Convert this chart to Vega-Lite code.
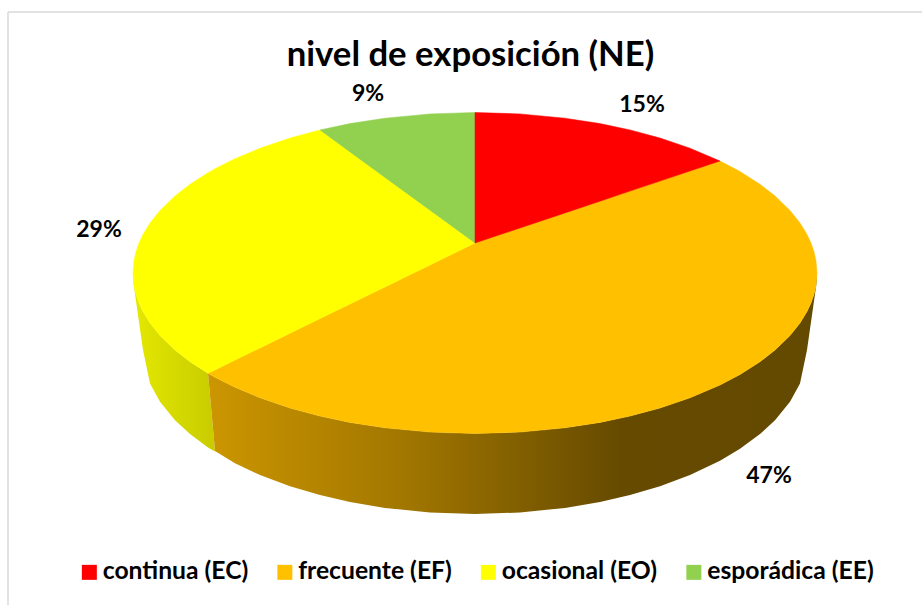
{
"$schema":"https://vega.github.io/schema/vega-lite/v6.json",
"width":922,"height":605,"padding":0,"autosize":{"type":"none"},
"background":"#ffffff",
"config":{"view":{"stroke":null},"font":"Lato"},
"title":{"text":"nivel de exposición (NE)","font":"Lato","fontWeight":"bold","fontSize":34.7,"color":"#000000","anchor":"middle","frame":"group","dx":9.5,"dy":74,"offset":0},
"datasets":{
"caras":[
{"sector":"frecuente (EF)","x":208,"y":373.3,"y2":373.3},{"sector":"frecuente (EF)","x":215,"y":369.9,"y2":377.3},{"sector":"frecuente (EF)","x":235,"y":360.1,"y2":387.3},{"sector":"frecuente (EF)","x":260,"y":347.9,"y2":397.8},{"sector":"frecuente (EF)","x":290,"y":333.3,"y2":408},{"sector":"frecuente (EF)","x":320,"y":318.6,"y2":416.1},{"sector":"frecuente (EF)","x":350,"y":304,"y2":422.4},{"sector":"frecuente (EF)","x":385,"y":286.9,"y2":427.8},{"sector":"frecuente (EF)","x":430,"y":265,"y2":432.1},{"sector":"frecuente (EF)","x":475,"y":243,"y2":433.5},{"sector":"frecuente (EF)","x":520,"y":228,"y2":432.1},{"sector":"frecuente (EF)","x":565,"y":212.9,"y2":427.8},{"sector":"frecuente (EF)","x":600,"y":201.2,"y2":422.4},{"sector":"frecuente (EF)","x":630,"y":191.1,"y2":416.1},{"sector":"frecuente (EF)","x":660,"y":181.1,"y2":408},{"sector":"frecuente (EF)","x":690,"y":171,"y2":397.8},{"sector":"frecuente (EF)","x":720,"y":161,"y2":385},{"sector":"frecuente (EF)","x":740,"y":171.5,"y2":374.5},{"sector":"frecuente (EF)","x":760,"y":184.3,"y2":361.7},{"sector":"frecuente (EF)","x":775,"y":195.9,"y2":350.1},{"sector":"frecuente (EF)","x":790,"y":210.5,"y2":335.5},{"sector":"frecuente (EF)","x":800,"y":223,"y2":323},{"sector":"frecuente (EF)","x":807,"y":234.5,"y2":311.5},{"sector":"frecuente (EF)","x":811,"y":243.1,"y2":302.9},{"sector":"frecuente (EF)","x":814,"y":251.8,"y2":294.2},{"sector":"frecuente (EF)","x":816,"y":260.7,"y2":285.3},{"sector":"frecuente (EF)","x":817,"y":273,"y2":273},
{"sector":"ocasional (EO)","x":133,"y":273,"y2":273},{"sector":"ocasional (EO)","x":134,"y":260.7,"y2":285.3},{"sector":"ocasional (EO)","x":136,"y":251.8,"y2":294.2},{"sector":"ocasional (EO)","x":139,"y":243.1,"y2":302.9},{"sector":"ocasional (EO)","x":143,"y":234.5,"y2":311.5},{"sector":"ocasional (EO)","x":150,"y":223,"y2":323},{"sector":"ocasional (EO)","x":160,"y":210.5,"y2":335.5},{"sector":"ocasional (EO)","x":175,"y":195.9,"y2":350.1},{"sector":"ocasional (EO)","x":190,"y":184.3,"y2":361.7},{"sector":"ocasional (EO)","x":208,"y":172.7,"y2":373.3},{"sector":"ocasional (EO)","x":215,"y":168.7,"y2":369.9},{"sector":"ocasional (EO)","x":235,"y":158.7,"y2":360.1},{"sector":"ocasional (EO)","x":260,"y":148.2,"y2":347.9},{"sector":"ocasional (EO)","x":290,"y":138,"y2":333.3},{"sector":"ocasional (EO)","x":320,"y":129.9,"y2":318.6},{"sector":"ocasional (EO)","x":350,"y":151.9,"y2":304},{"sector":"ocasional (EO)","x":385,"y":177.4,"y2":286.9},{"sector":"ocasional (EO)","x":430,"y":210.2,"y2":265},{"sector":"ocasional (EO)","x":475,"y":243,"y2":243},
{"sector":"esporádica (EE)","x":320,"y":129.9,"y2":129.9},{"sector":"esporádica (EE)","x":350,"y":123.6,"y2":151.9},{"sector":"esporádica (EE)","x":385,"y":118.2,"y2":177.4},{"sector":"esporádica (EE)","x":430,"y":113.9,"y2":210.2},{"sector":"esporádica (EE)","x":475,"y":112.5,"y2":243},
{"sector":"continua (EC)","x":475,"y":112.5,"y2":243},{"sector":"continua (EC)","x":520,"y":113.9,"y2":228},{"sector":"continua (EC)","x":565,"y":118.2,"y2":212.9},{"sector":"continua (EC)","x":600,"y":123.6,"y2":201.2},{"sector":"continua (EC)","x":630,"y":129.9,"y2":191.1},{"sector":"continua (EC)","x":660,"y":138,"y2":181.1},{"sector":"continua (EC)","x":690,"y":148.2,"y2":171},{"sector":"continua (EC)","x":720,"y":161,"y2":161}
],
"paredAmarilla":[
{"x":133,"y":273,"y2":280},{"x":134,"y":285.3,"y2":287},{"x":136,"y":294.2,"y2":301},{"x":139,"y":302.9,"y2":322},{"x":143,"y":311.5,"y2":350},{"x":150,"y":323,"y2":383.5},{"x":160,"y":335.5,"y2":401.8},{"x":175,"y":350.1,"y2":420.3},{"x":190,"y":361.7,"y2":434.1},{"x":208,"y":373.3,"y2":447.5},{"x":215,"y":451,"y2":451.5}
],
"paredNaranja":[
{"x":208,"y":373.3,"y2":373.3},{"x":215,"y":377.3,"y2":451},{"x":235,"y":387.3,"y2":463.3},{"x":260,"y":397.8,"y2":475},{"x":290,"y":408,"y2":486.2},{"x":320,"y":416.1,"y2":495},{"x":350,"y":422.4,"y2":501.9},{"x":385,"y":427.8,"y2":507.9},{"x":430,"y":432.1,"y2":512.5},{"x":475,"y":433.5,"y2":514},{"x":520,"y":432.1,"y2":512.5},{"x":565,"y":427.8,"y2":507.9},{"x":600,"y":422.4,"y2":501.9},{"x":630,"y":416.1,"y2":495},{"x":660,"y":408,"y2":486.2},{"x":690,"y":397.8,"y2":475},{"x":720,"y":385,"y2":460.7},{"x":740,"y":374.5,"y2":448.8},{"x":760,"y":361.7,"y2":434.1},{"x":775,"y":350.1,"y2":420.3},{"x":790,"y":335.5,"y2":401.8},{"x":800,"y":323,"y2":383.5},{"x":807,"y":311.5,"y2":350},{"x":811,"y":302.9,"y2":322},{"x":814,"y":294.2,"y2":301},{"x":816,"y":285.3,"y2":287},{"x":817,"y":273,"y2":280}
],
"etiquetas":[
{"sector":"continua (EC)","pct":0.15,"x":642,"y":105},{"sector":"frecuente (EF)","pct":0.47,"x":769,"y":476},{"sector":"ocasional (EO)","pct":0.29,"x":99,"y":230},{"sector":"esporádica (EE)","pct":0.09,"x":368,"y":94}
]
},
"layer":[
{"data":{"values":[{"x":8,"x2":922,"y":12}]},"mark":{"type":"rule","color":"#d9d9d9","strokeWidth":1.5},
 "encoding":{"x":{"field":"x","type":"quantitative","scale":{"domain":[0,922],"nice":false,"zero":false},"axis":null},"x2":{"field":"x2"},"y":{"field":"y","type":"quantitative","scale":{"domain":[605,0],"nice":false,"zero":false},"axis":null}}},
{"data":{"values":[{"x":8,"y":12,"y2":605}]},"mark":{"type":"rule","color":"#d9d9d9","strokeWidth":1.5},
 "encoding":{"x":{"field":"x","type":"quantitative","axis":null},"y":{"field":"y","type":"quantitative","axis":null},"y2":{"field":"y2"}}},
{"data":{"name":"paredAmarilla"},"mark":{"type":"area","orient":"vertical","color":{"gradient":"linear","x1":0,"y1":0,"x2":1,"y2":0,"stops":[{"offset":0,"color":"#e4e800"},{"offset":1,"color":"#c8cc00"}]}},
 "encoding":{"x":{"field":"x","type":"quantitative","axis":null},"y":{"field":"y","type":"quantitative","axis":null,"stack":null},"y2":{"field":"y2"}}},
{"data":{"name":"paredNaranja"},"mark":{"type":"area","orient":"vertical","color":{"gradient":"linear","x1":0,"y1":0,"x2":1,"y2":0,"stops":[{"offset":0,"color":"#cc9600"},{"offset":0.32,"color":"#a27700"},{"offset":0.68,"color":"#654a00"},{"offset":1,"color":"#644a00"}]}},
 "encoding":{"x":{"field":"x","type":"quantitative","axis":null},"y":{"field":"y","type":"quantitative","axis":null,"stack":null},"y2":{"field":"y2"}}},
{"data":{"name":"caras"},"mark":{"type":"area","orient":"vertical","strokeWidth":0.5},
 "encoding":{"x":{"field":"x","type":"quantitative","axis":null},"y":{"field":"y","type":"quantitative","axis":null,"stack":null},"y2":{"field":"y2"},
  "color":{"field":"sector","type":"nominal","scale":{"domain":["continua (EC)","frecuente (EF)","ocasional (EO)","esporádica (EE)"],"range":["#ff0000","#ffc000","#ffff00","#92d050"]},
   "legend":{"title":null,"orient":"none","legendX":77,"legendY":560,"direction":"horizontal","columns":4,"gridAlign":"none","columnPadding":23.5,"symbolType":"square","symbolSize":225,"symbolStrokeWidth":0,"labelOffset":1,"labelFont":"Lato","labelFontWeight":"bold","labelFontSize":24.7,"labelColor":"#000000","labelLimit":300}},
  "stroke":{"field":"sector","type":"nominal","legend":null,"scale":{"domain":["continua (EC)","frecuente (EF)","ocasional (EO)","esporádica (EE)"],"range":["#ff0000","#ffc000","#ffff00","#92d050"]}}}},
{"data":{"name":"etiquetas"},"mark":{"type":"text","font":"Lato","fontWeight":"bold","fontSize":23,"color":"#000000","align":"center","baseline":"middle"},
 "encoding":{"x":{"field":"x","type":"quantitative","axis":null},"y":{"field":"y","type":"quantitative","axis":null},"text":{"field":"pct","type":"quantitative","format":".0%"}}}
]
}
